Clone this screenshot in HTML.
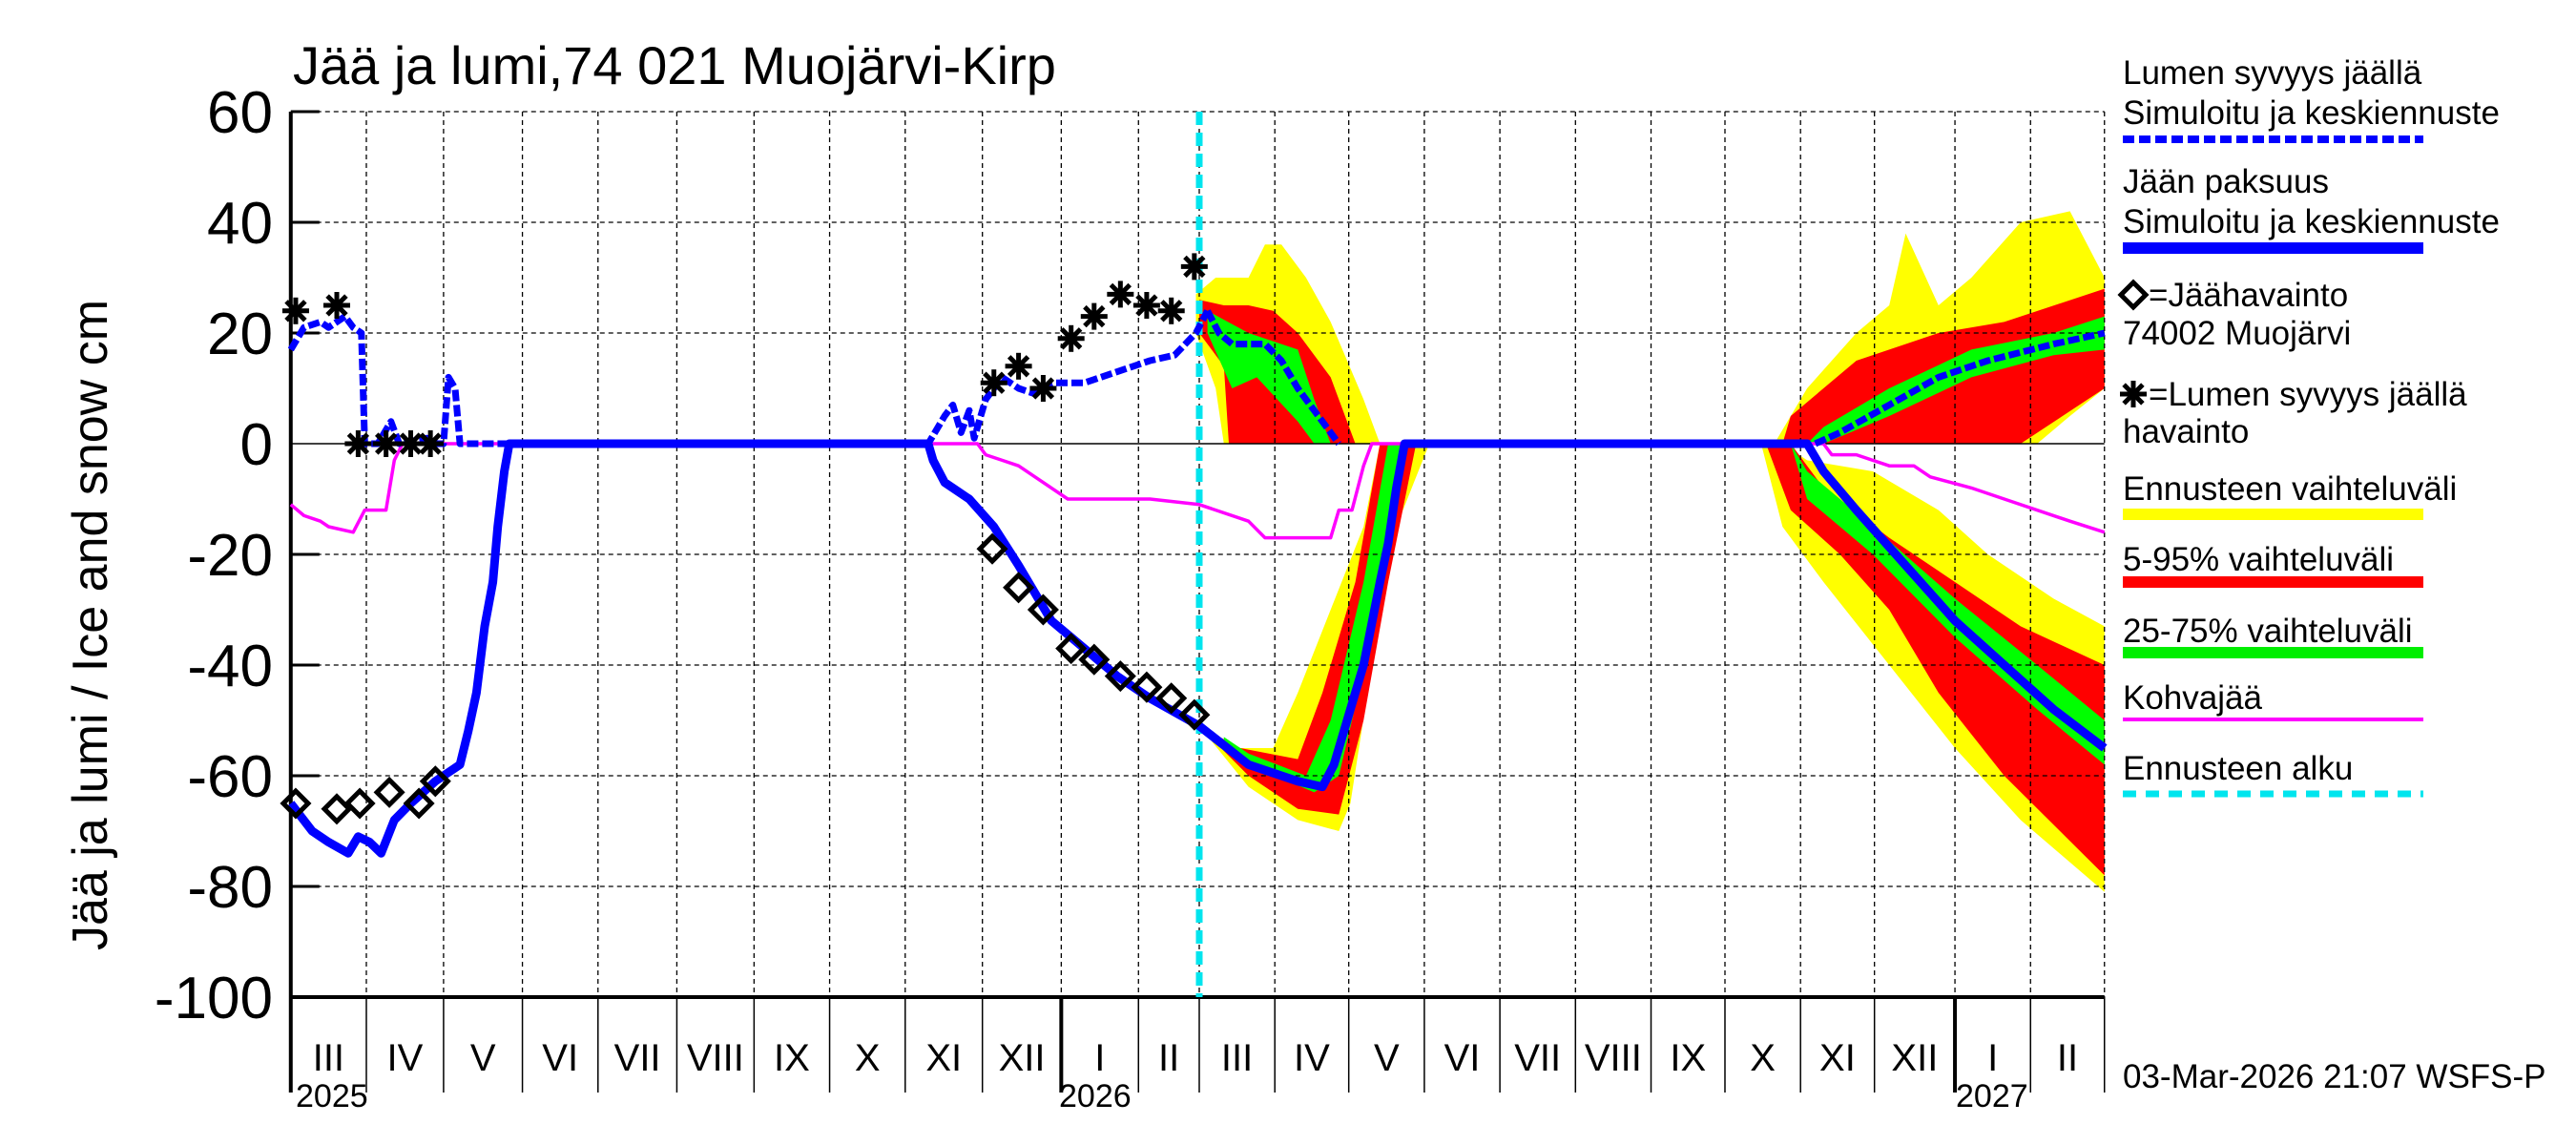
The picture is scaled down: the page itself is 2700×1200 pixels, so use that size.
<!DOCTYPE html>
<html><head><meta charset="utf-8"><style>
html,body{margin:0;padding:0;background:#fff;}
svg{display:block;font-family:"Liberation Sans",sans-serif;}
</style></head><body>
<svg id="s" width="2700" height="1200" viewBox="0 0 2700 1200" xmlns="http://www.w3.org/2000/svg">
<rect width="2700" height="1200" fill="#fff"/>
<g id="bands"></g>
<g id="grid"></g>
<g id="lines"></g>
<g id="marks"></g>
<text x="307" y="88" font-size="56">Jää ja lumi,74 021 Muojärvi-Kirp</text>
<g font-size="62" text-anchor="end">
<text x="286" y="139">60</text><text x="286" y="255">40</text><text x="286" y="371">20</text>
<text x="286" y="487">0</text><text x="286" y="603">-20</text><text x="286" y="719">-40</text>
<text x="286" y="835">-60</text><text x="286" y="951">-80</text><text x="286" y="1067">-100</text>
</g>
<text transform="translate(112,655) rotate(-90)" font-size="52" text-anchor="middle">Jää ja lumi / Ice and snow    cm</text>
<g font-size="35">
<text x="2225" y="88">Lumen syvyys jäällä</text>
<text x="2225" y="130">Simuloitu ja keskiennuste</text>
<line x1="2225" y1="146" x2="2540" y2="146" stroke="#0000ff" stroke-width="8" stroke-dasharray="12,5"/>
<text x="2225" y="202">Jään paksuus</text>
<text x="2225" y="244">Simuloitu ja keskiennuste</text>
<line x1="2225" y1="260" x2="2540" y2="260" stroke="#0000ff" stroke-width="12"/>
<text x="2252" y="321">=Jäähavainto</text>
<text x="2225" y="361">74002 Muojärvi</text>
<text x="2252" y="425">=Lumen syvyys jäällä</text>
<text x="2225" y="464">havainto</text>
<text x="2225" y="524">Ennusteen vaihteluväli</text>
<line x1="2225" y1="539" x2="2540" y2="539" stroke="#ffff00" stroke-width="12"/>
<text x="2225" y="598">5-95% vaihteluväli</text>
<line x1="2225" y1="610" x2="2540" y2="610" stroke="#ff0000" stroke-width="12"/>
<text x="2225" y="673">25-75% vaihteluväli</text>
<line x1="2225" y1="684" x2="2540" y2="684" stroke="#00ee00" stroke-width="12"/>
<text x="2225" y="743">Kohvajää</text>
<line x1="2225" y1="754" x2="2540" y2="754" stroke="#ff00ff" stroke-width="4"/>
<text x="2225" y="817">Ennusteen alku</text>
<line x1="2225" y1="832" x2="2540" y2="832" stroke="#00e5ee" stroke-width="7" stroke-dasharray="14,10"/>
<text x="2225" y="1140">03-Mar-2026 21:07 WSFS-P</text>
</g>
<g id="leg"></g>
</svg>
<script>
var NS="http://www.w3.org/2000/svg";
function X(dx){return dx*1.7219;}
function Y(v){return 465-5.8*v;}
function el(parent,tag,attrs,text){var e=document.createElementNS(NS,tag);for(var k in attrs)e.setAttribute(k,attrs[k]);if(text)e.textContent=text;document.getElementById(parent).appendChild(e);return e;}
function pts(a){return a.map(function(p){return X(p[0]).toFixed(1)+","+Y(p[1]).toFixed(1)}).join(" ");}
function band(up,lo,col){var a=up.concat(lo.slice().reverse());el("bands","polygon",{points:pts(a),fill:col});}
band([[730,-51],[750,-55],[775,-55],[790,-45],[810,-30],[830,-15],[840,0]],[[730,-51],[760,-62],[790,-68],[815,-70],[822,-65],[835,-40],[850,-15],[870,0]],"#ffff00");
band([[730,-51],[755,-55],[790,-57],[805,-45],[825,-25],[840,0]],[[730,-51],[760,-60],[790,-66],[815,-67],[830,-50],[845,-25],[862,0]],"#ff0000");
band([[745,-53],[760,-56],[795,-60],[810,-50],[830,-25],[845,0]],[[745,-55],[760,-58],[800,-63],[815,-60],[835,-35],[853,0]],"#00ff00");
band([[728,27],[740,30],[760,30],[770,36],[780,36],[795,30],[810,22],[820,15],[830,8],[840,0]],[[728,20],[740,10],[745,0],[840,0]],"#ffff00");
band([[730,26],[745,25],[760,25],[775,24],[790,20],[810,12],[825,0]],[[730,20],[745,14],[748,0],[825,0]],"#ff0000");
band([[735,24],[760,20],[790,17],[800,8],[810,0]],[[735,20],[750,10],[765,12],[790,4],[800,0],[810,0]],"#00ff00");
band([[1072,0],[1085,0],[1100,-3],[1140,-5],[1180,-12],[1210,-20],[1250,-28],[1281,-33]],[[1072,0],[1085,-15],[1110,-25],[1150,-40],[1190,-55],[1230,-68],[1281,-81]],"#ffff00");
band([[1075,0],[1090,0],[1110,-8],[1150,-17],[1190,-25],[1230,-33],[1281,-40]],[[1075,0],[1090,-12],[1120,-20],[1150,-30],[1180,-45],[1220,-60],[1281,-78]],"#ff0000");
band([[1090,0],[1100,-5],[1140,-15],[1190,-28],[1240,-40],[1281,-50]],[[1090,0],[1100,-10],[1140,-20],[1190,-35],[1240,-48],[1281,-58]],"#00ff00");
band([[1080,0],[1100,10],[1130,20],[1150,25],[1160,38],[1180,25],[1200,30],[1230,40],[1260,42],[1281,30]],[[1080,0],[1240,0],[1260,5],[1281,10]],"#ffff00");
band([[1085,0],[1090,5],[1130,15],[1180,20],[1220,22],[1281,28]],[[1085,0],[1230,0],[1281,10]],"#ff0000");
band([[1100,0],[1110,3],[1150,10],[1200,17],[1250,20],[1281,23]],[[1100,0],[1110,0],[1150,5],[1200,12],[1250,16],[1281,17]],"#00ff00");
var mx=[177,223,270,318,364,412,459,505,551,598,646,693,730,776,821,867,913,959,1005,1050,1096,1141,1190,1236,1281];
for(var v=-80;v<=60;v+=20){if(v==0)continue;el("grid","line",{x1:X(177),x2:X(1281),y1:Y(v),y2:Y(v),stroke:"#000","stroke-width":1.3,"stroke-dasharray":"5,4"});el("grid","line",{x1:X(177),x2:X(177)+30,y1:Y(v),y2:Y(v),stroke:"#000","stroke-width":3});}
el("grid","line",{x1:X(177),x2:X(1281),y1:Y(0),y2:Y(0),stroke:"#000","stroke-width":1.5});
mx.forEach(function(m,i){if(i>0)el("grid","line",{x1:X(m),x2:X(m),y1:Y(60),y2:Y(-100),stroke:"#000","stroke-width":1.3,"stroke-dasharray":"5,4"});
 el("grid","line",{x1:X(m),x2:X(m),y1:Y(-100),y2:1145,stroke:"#000","stroke-width":(i==10||i==22)?4:1.5});});
el("grid","line",{x1:X(177),x2:X(177),y1:Y(60),y2:1145,stroke:"#000","stroke-width":4});
el("grid","line",{x1:X(177),x2:X(1281),y1:Y(-100),y2:Y(-100),stroke:"#000","stroke-width":4});
var mn=["III","IV","V","VI","VII","VIII","IX","X","XI","XII","I","II","III","IV","V","VI","VII","VIII","IX","X","XI","XII","I","II"];
mn.forEach(function(t,i){el("grid","text",{x:(X(mx[i])+X(mx[i+1]))/2,y:1122,"font-size":40,"text-anchor":"middle"},t);});
el("grid","text",{x:310,y:1160,"font-size":34},"2025");
el("grid","text",{x:1110,y:1160,"font-size":34},"2026");
el("grid","text",{x:2050,y:1160,"font-size":34},"2027");
el("lines","line",{x1:X(730),x2:X(730),y1:Y(60),y2:Y(-100),stroke:"#00e5ee","stroke-width":7,"stroke-dasharray":"14,8"});
function pl(a,col,w,dash){var o={points:pts(a),fill:"none",stroke:col,"stroke-width":w,"stroke-linejoin":"round"};if(dash)o["stroke-dasharray"]=dash;el("lines","polyline",o);}
pl([[177,-11],[185,-13],[195,-14],[200,-15],[215,-16],[222,-12],[235,-12],[240,-3],[245,0],[595,0],[600,-2],[610,-3],[620,-4],[630,-6],[640,-8],[650,-10],[700,-10],[730,-11],[760,-14],[770,-17],[810,-17],[815,-12],[823,-12],[830,-4],[835,0],[1110,0],[1115,-2],[1130,-2],[1150,-4],[1165,-4],[1175,-6],[1200,-8],[1220,-10],[1260,-14],[1281,-16]],"#ff00ff",3.5);
pl([[177,-65],[190,-70],[200,-72],[212,-74],[218,-71],[225,-72],[232,-74],[240,-68],[250,-65],[265,-61],[280,-58],[285,-52],[290,-45],[295,-33],[300,-25],[303,-15],[307,-5],[310,0],[565,0],[568,-3],[575,-7],[590,-10],[605,-15],[620,-22],[640,-32],[660,-37],[680,-42],[700,-46],[730,-51],[760,-58],[790,-61],[805,-62],[812,-58],[822,-48],[830,-40],[840,-25],[845,-18],[850,-8],[855,0],[1100,0],[1110,-5],[1130,-12],[1160,-22],[1190,-32],[1220,-40],[1250,-48],[1281,-55]],"#0000ff",9);
pl([[177,17],[185,21],[195,22],[200,21],[210,23],[215,21],[220,20],[222,0],[230,0],[238,4],[243,0],[260,1],[266,0],[270,0],[273,12],[277,10],[280,0],[565,0],[575,5],[580,7],[585,2],[590,6],[593,1],[600,8],[610,12],[620,10],[630,9],[640,11],[660,11],[670,12],[690,14],[700,15],[715,16],[728,20],[735,24]],"#0000ff",7,"12,4");
pl([[735,24],[742,20],[750,18],[770,18],[780,15],[790,10],[800,6],[810,2],[815,0]],"#0000ff",7,"12,4");
pl([[1105,0],[1120,2],[1150,7],[1180,12],[1210,15],[1250,18],[1281,20]],"#0000ff",7,"12,4");
function star(x,y){for(var a=0;a<4;a++){var t=a*Math.PI/4;el("marks","line",{x1:x-14*Math.cos(t),y1:y-14*Math.sin(t),x2:x+14*Math.cos(t),y2:y+14*Math.sin(t),stroke:"#000","stroke-width":5});}}
function dia(x,y){el("marks","polygon",{points:x+","+(y-13)+" "+(x+13)+","+y+" "+x+","+(y+13)+" "+(x-13)+","+y,fill:"none",stroke:"#000","stroke-width":5});}
[[180,24],[205,25],[218,0],[235,0],[250,0],[262,0],[605,11],[620,14],[635,10],[652,19],[666,23],[682,27],[698,25],[713,24],[727,32]].forEach(function(p){star(X(p[0]),Y(p[1]));});
[[180,-65],[205,-66],[219,-65],[237,-63],[255,-65],[265,-61],[604,-19],[620,-26],[635,-30],[652,-37],[666,-39],[682,-42],[698,-44],[713,-46],[727,-49]].forEach(function(p){dia(X(p[0]),Y(p[1]));});
dia(2236,309);star(2236,413);
</script>
</body></html>
